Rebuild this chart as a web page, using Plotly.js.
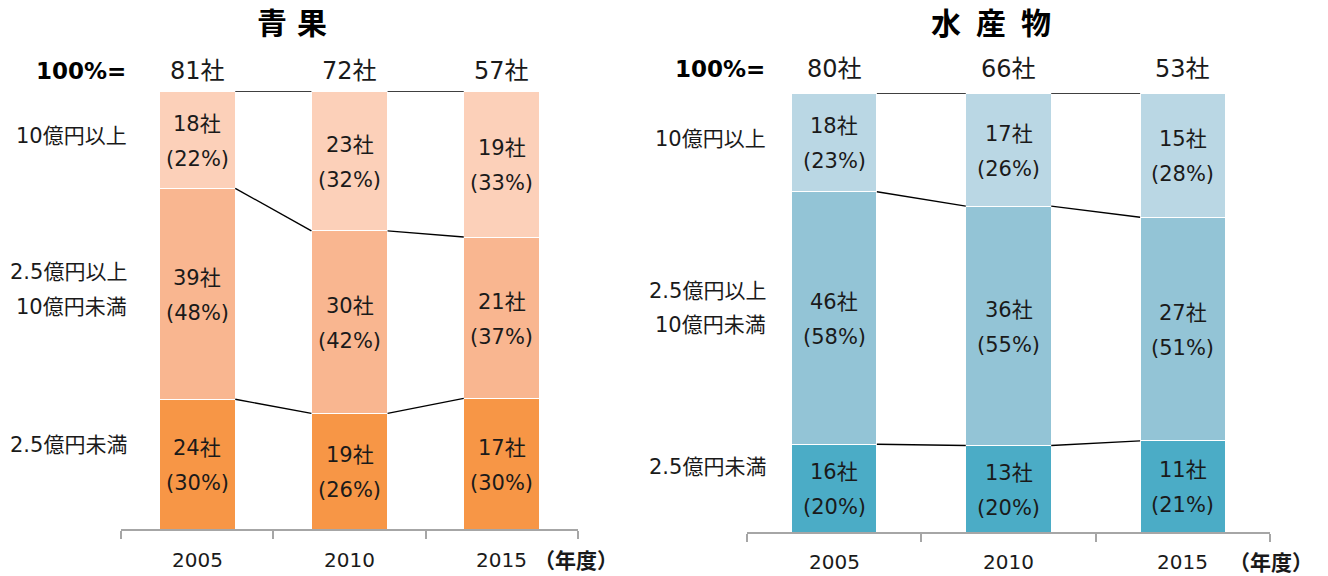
<!DOCTYPE html>
<html>
<head>
<meta charset="utf-8">
<script src="https://cdn.plot.ly/plotly-3.0.1.min.js"></script>
<style>html,body{margin:0;padding:0;background:#fff;}</style>
</head>
<body>
<div id="chart" style="width:1328px;height:576px;"></div>
<script>
// Fiscal years on the x axis
const years = ['2005', '2010', '2015'];

// Company counts by sales band (青果)
const fruitSmall = [24, 19, 17];   // 2.5億円未満
const fruitMid   = [39, 30, 21];   // 2.5億円以上10億円未満
const fruitLarge = [18, 23, 19];   // 10億円以上

// Company counts by sales band (水産物)
const fishSmall = [16, 13, 11];
const fishMid   = [46, 36, 27];
const fishLarge = [18, 17, 15];

// Band labels, bottom to top; a band label may span two lines
const bandLabels = [['2.5億円未満'], ['2.5億円以上', '10億円未満'], ['10億円以上']];
const panelTitles = ['青\u2004果', '水\u2002産\u2002物'];
const unitLabel = '（年度）';
const totalLabel = '100%=';

const FONT = "'DejaVu Sans', 'Noto Sans CJK JP', sans-serif";
const CJK = "'Noto Sans CJK JP', 'DejaVu Sans', sans-serif";
const W = 1328, H = 576;
const px = x => x / W;
const py = y => 1 - y / H;

const panels = [
  {
    counts: [fruitSmall, fruitMid, fruitLarge],
    colors: ['#F79646', '#F9B690', '#FCD0B9'],
    xa: 'x', ya: 'y', barWidth: 0.5,
    xdom: [px(121), px(578)], ydom: [py(529), py(91)],
    titleX: 292, labelRight: 129, totalY: 71, bandY: [[445], [272, 307], [136]],
    totalShift: 20, yearY: 560, unitX: 576
  },
  {
    counts: [fishSmall, fishMid, fishLarge],
    colors: ['#4BACC6', '#93C4D6', '#BAD7E4'],
    xa: 'x2', ya: 'y2', barWidth: 0.49,
    xdom: [px(747), px(1270)], ydom: [py(532), py(93)],
    titleX: 991, labelRight: 768, totalY: 69, bandY: [[467], [291, 325], [139]],
    totalShift: 24, yearY: 562, unitX: 1271
  }
];

const traces = [];
const annotations = [];
const xpos = years.map((_, i) => i);

panels.forEach((p, pi) => {
  const totals = xpos.map(i => p.counts.reduce((s, c) => s + c[i], 0));
  const shares = p.counts.map(c => c.map((v, i) => v * 100 / totals[i]));

  // stacked share bars
  shares.forEach((sh, k) => {
    traces.push({
      type: 'bar', x: xpos, y: sh, xaxis: p.xa, yaxis: p.ya,
      width: p.barWidth, marker: {color: p.colors[k], line: {color: '#FFFFFF', width: 1}},
      hoverinfo: 'skip', showlegend: false
    });
  });

  // connector lines between neighbouring bars at each band boundary
  const cum = [];
  let run = xpos.map(() => 0);
  shares.forEach(sh => { run = run.map((v, i) => v + sh[i]); cum.push(run.slice()); });
  cum.forEach(level => {
    const lx = [], ly = [];
    for (let i = 0; i < xpos.length - 1; i++) {
      lx.push(xpos[i] + p.barWidth / 2, xpos[i + 1] - p.barWidth / 2, null);
      ly.push(level[i], level[i + 1], null);
    }
    traces.push({
      type: 'scatter', mode: 'lines', x: lx, y: ly, xaxis: p.xa, yaxis: p.ya,
      line: {color: '#000000', width: 1.4}, hoverinfo: 'skip', showlegend: false
    });
  });

  // in-bar labels: count and rounded share
  p.counts.forEach((c, k) => {
    c.forEach((v, i) => {
      const base = k === 0 ? 0 : cum[k - 1][i];
      const mid = base + shares[k][i] / 2;
      annotations.push({xref: p.xa, yref: p.ya, x: i, y: mid, xanchor: 'center', yshift: 16, showarrow: false,
        text: v + '社', font: {family: FONT, size: 21, color: '#1a1a1a'}});
      annotations.push({xref: p.xa, yref: p.ya, x: i, y: mid, xanchor: 'center', yshift: -19, showarrow: false,
        text: '(' + Math.round(shares[k][i]) + '%)', font: {family: FONT, size: 21, color: '#1a1a1a'}});
    });
  });

  // totals above bars
  totals.forEach((t, i) => {
    annotations.push({xref: p.xa, yref: p.ya, x: i, y: 100, xanchor: 'center', yshift: p.totalShift, showarrow: false,
      text: t + '社', font: {family: FONT, size: 24, color: '#1a1a1a'}});
  });

  // year labels and unit
  years.forEach((yr, i) => {
    annotations.push({xref: p.xa, yref: 'paper', x: i, y: py(p.yearY), xanchor: 'center', yanchor: 'middle',
      showarrow: false, text: yr, font: {family: FONT, size: 20, color: '#1a1a1a'}});
  });
  annotations.push({xref: 'paper', yref: 'paper', x: px(p.unitX), y: py(p.yearY - 1), xanchor: 'center', yanchor: 'middle',
    borderpad: 0, showarrow: false, text: '<b>' + unitLabel + '</b>', font: {family: CJK, size: 21, color: '#1a1a1a'}});

  // panel title and "100%=" row label
  annotations.push({xref: 'paper', yref: 'paper', x: px(p.titleX), y: py(21), xanchor: 'center', yanchor: 'middle',
    showarrow: false, text: '<b>' + panelTitles[pi] + '</b>', font: {family: CJK, size: 30, color: '#000000'}});
  annotations.push({xref: 'paper', yref: 'paper', x: px(p.labelRight - 1), y: py(p.totalY), xanchor: 'right',
    yanchor: 'middle', showarrow: false, text: '<b>' + totalLabel + '</b>', font: {family: FONT, size: 23, color: '#000000'}});

  // band labels on the left
  bandLabels.forEach((lines, k) => {
    lines.forEach((ln, j) => {
      annotations.push({xref: 'paper', yref: 'paper', x: px(p.labelRight), y: py(p.bandY[k][j]),
        xanchor: 'right', yanchor: 'middle', showarrow: false, text: ln,
        font: {family: FONT, size: 21, color: '#1a1a1a'}});
    });
  });
});

const boundaries = [-0.5, 0.5, 1.5, 2.5];
const xaxisBase = {
  range: [-0.5, 2.5], showgrid: false, zeroline: false, showline: true, linecolor: '#A6A6A6', linewidth: 2,
  tickmode: 'array', tickvals: boundaries, ticks: 'outside', ticklen: 8, tickwidth: 2, tickcolor: '#A6A6A6',
  showticklabels: false, fixedrange: true
};
const yaxisBase = {range: [0, 100], visible: false, fixedrange: true};

const layout = {
  width: W, height: H, margin: {l: 0, r: 0, t: 0, b: 0},
  paper_bgcolor: '#FFFFFF', plot_bgcolor: 'rgba(0,0,0,0)',
  barmode: 'stack', showlegend: false,
  xaxis: Object.assign({}, xaxisBase, {domain: panels[0].xdom, anchor: 'y'}),
  yaxis: Object.assign({}, yaxisBase, {domain: panels[0].ydom, anchor: 'x'}),
  xaxis2: Object.assign({}, xaxisBase, {domain: panels[1].xdom, anchor: 'y2'}),
  yaxis2: Object.assign({}, yaxisBase, {domain: panels[1].ydom, anchor: 'x2'}),
  annotations: annotations
};

Plotly.newPlot('chart', traces, layout, {displayModeBar: false, staticPlot: true});
</script>
</body>
</html>
